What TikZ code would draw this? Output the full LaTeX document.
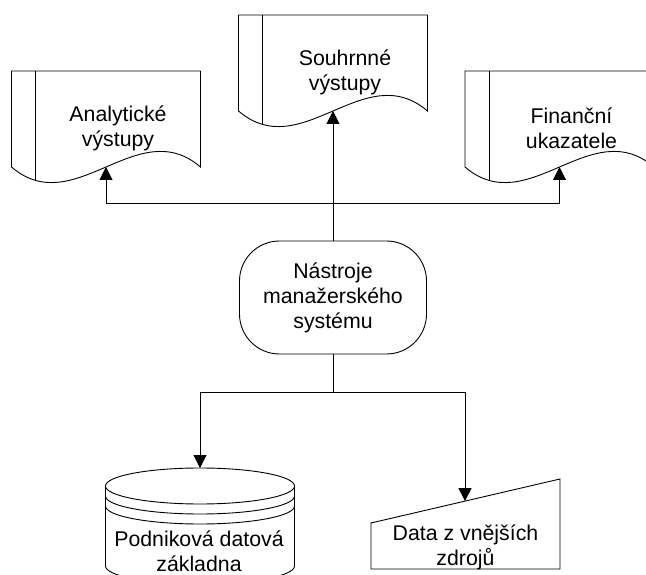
\documentclass[tikz,border=0pt]{standalone}
\usepackage{fontspec}
\setmainfont{Liberation Sans}
\usetikzlibrary{arrows.meta}
\begin{document}
\begin{tikzpicture}[x=1pt,y=-1pt,
  shp/.style={draw=black, line width=0.9pt},
  lbl/.style={align=center, inner sep=0pt, font=\fontsize{21.3}{25}\selectfont},
  arr/.style={line width=1pt, -{Triangle[length=13pt,width=13pt]}},
  con/.style={line width=1pt},
  docshape/.pic={
    \draw[shp] (0,0) -- (189,0) -- (189,96) .. controls (126,42) and (63,150) .. (0,96) -- cycle;
    \draw[shp] (24,0) -- (24,109);
    \coordinate (-in) at (94.5,96);
  }]
\path[use as bounding box] (0,0) rectangle (646,575);
\clip (0,0) rectangle (646,575);

% documents (outputs)
\pic (ana) at (11.5,71) {docshape};
\pic (sou) at (238.5,15) {docshape};
\pic (fin) at (465,71) {docshape};
\node[lbl] (anat) at (118,128.5) {Analytické\\výstupy};
\node[lbl] (sout) at (345,72.5) {Souhrnné\\výstupy};
\node[lbl] (fint) at (571.5,128.5) {Finanční\\ukazatele};

% terminal
\node[lbl, shp, rounded corners=40pt, minimum width=187pt, minimum height=113pt] (tools) at (333,297.5) {Nástroje\\manažerského\\systému};

% database cylinder
\draw[shp] (200,486) ellipse [x radius=94.5pt, y radius=18pt];
\draw[shp] (105.5,496) arc[start angle=180, end angle=360, x radius=94.5pt, y radius=18pt];
\draw[shp] (105.5,506) arc[start angle=180, end angle=360, x radius=94.5pt, y radius=18pt];
\draw[shp] (105.5,486) -- (105.5,566) arc[start angle=180, end angle=360, x radius=94.5pt, y radius=18pt] -- (294.5,486);
\coordinate (dbtop) at (200,468);
\node[lbl] (dbt) at (199,551) {Podniková datová\\základna};

% manual input
\draw[shp] (371,523) -- (560,479) -- (560,569) -- (371,569) -- cycle;
\coordinate (extin) at (465,501.1);
\node[lbl] (extt) at (465.5,547.5) {Data z vnějších\\zdrojů};

% connectors
\coordinate (jt) at (333,204);
\coordinate (jb) at (333,392);
\draw[arr] (tools.north) -- (sou-in);
\draw[arr] (jt) -| (ana-in);
\draw[arr] (jt) -| (fin-in);
\draw[con] (tools.south) -- (jb);
\draw[arr] (jb) -| (dbtop);
\draw[arr] (jb) -| (extin);
\end{tikzpicture}
\end{document}
